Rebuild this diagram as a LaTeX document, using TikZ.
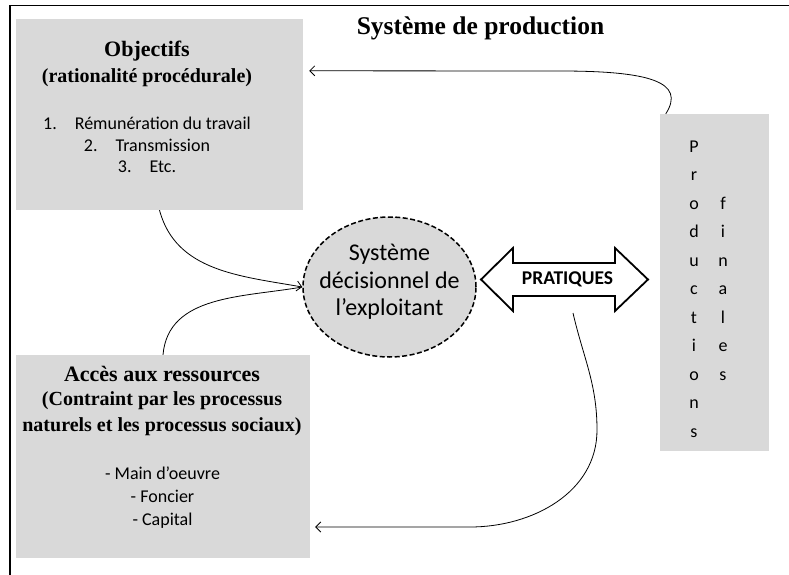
\documentclass[tikz,border=0pt]{standalone}
\usepackage{fontspec}
\setmainfont{Liberation Serif}
\newfontfamily\calibri{Carlito}
\usetikzlibrary{arrows.meta,shapes.geometric}
\definecolor{boxgrey}{HTML}{D9D9D9}
\tikzset{
  greybox/.style={fill=boxgrey, draw=none, inner sep=0pt},
  headline/.style={anchor=base, inner sep=0pt, font=\bfseries\fontsize{22}{26}\selectfont},
  subline/.style={anchor=base, inner sep=0pt, font=\bfseries\fontsize{20}{24}\selectfont},
  itemline/.style={anchor=base, inner sep=0pt, font=\calibri\fontsize{18}{22}\selectfont},
  decline/.style={anchor=base, inner sep=0pt, font=\calibri\fontsize{24}{28}\selectfont},
  prodletter/.style={anchor=base, inner sep=0pt, font=\calibri\fontsize{18}{22}\selectfont},
  link/.style={line width=0.8pt, -{Straight Barb[length=5pt,width=10pt]}},
}

\begin{document}
\begin{tikzpicture}[x=1pt,y=1pt]
  \useasboundingbox (0,0) rectangle (789,-575);
  %%%%% START %%%%%
  \draw[line width=1.5pt] (789,-5.5) -- (10,-5.5) -- (10,-575);
  \node[anchor=base, inner sep=0pt, font=\bfseries\fontsize{25.5}{30}\selectfont] (title) at (480.5,-35) {Système de production};

  % boxes
  \node[greybox, minimum width=287pt, minimum height=191pt] (obj) at (159.5,-114.5) {};
  \node[greybox, minimum width=294pt, minimum height=203pt] (acc) at (163,-456.5) {};
  \node[greybox, minimum width=109pt, minimum height=337pt] (prod) at (714.5,-282.5) {};
  \node[ellipse, fill=boxgrey, draw, line width=1.5pt, dash pattern=on 5pt off 2.5pt,
        minimum width=173pt, minimum height=140pt, inner sep=0pt] (dec) at (389.5,-287) {};

  % objectifs
  \node[headline] (objhead) at (147,-57) {Objectifs};
  \node[subline] (objsub) at (147,-83) {(rationalité procédurale)};
  \node[itemline] (obj1) at (147,-129) {1.\quad Rémunération du travail};
  \node[itemline] (obj2) at (147,-151) {2.\quad Transmission};
  \node[itemline] (obj3) at (147,-172) {3.\quad Etc.};

  % acces
  \node[headline] (acchead) at (162,-381) {Accès aux ressources};
  \node[subline] (accsub1) at (162,-405) {(Contraint par les processus};
  \node[subline] (accsub2) at (162,-431) {naturels et les processus sociaux)};
  \node[itemline] (acc1) at (162.5,-479) {- Main d’oeuvre};
  \node[itemline] (acc2) at (162.5,-502) {- Foncier};
  \node[itemline] (acc3) at (162.5,-525) {- Capital};

  % systeme decisionnel
  \node[decline] (dec1) at (389.5,-260) {Système};
  \node[decline] (dec2) at (389.5,-288) {décisionnel de};
  \node[decline] (dec3) at (389.5,-315) {l’exploitant};

  % productions finales
  \foreach \ch [count=\i] in {P,r,o,d,u,c,t,i,o,n,s}
    \node[prodletter] (pa\i) at (694,{-152-28.5*(\i-1)}) {\ch};
  \foreach \ch [count=\i from 3] in {f,i,n,a,l,e,s}
    \node[prodletter] (pb\i) at (723,{-152-28.5*(\i-1)}) {\ch};

  % pratiques
  \draw[line width=1.8pt, fill=white, line join=miter] (481,-279.5) -- (513,-248) -- (513,-263)
    -- (615,-263) -- (615,-248) -- (648,-279.5) -- (615,-311) -- (615,-296) -- (513,-296)
    -- (513,-311) -- cycle;
  \node[anchor=base, inner sep=0pt, font=\calibri\bfseries\fontsize{19.5}{23}\selectfont] (prat) at (567.5,-284) {PRATIQUES};

  % liens
  \coordinate (objin) at ([xshift=6pt,yshift=-52pt]obj.north east);
  \coordinate (accin) at ([xshift=5pt,yshift=-70.5pt]acc.east);
  \coordinate (pratout) at (573,-313);
  \draw[link] ([xshift=6pt]prod.north west) .. controls (686,-82) and (650,-71) .. (560,-71) -- (objin);
  \draw[link] (obj.south) to[out=-75,in=170] (dec.west);
  \draw[line width=0.8pt] (acc.north) to[out=85,in=190] (dec.west);
  \draw[link] (pratout) to[out=-77,in=90] (597,-430) to[out=-90,in=0] (470,-527) -- (accin);
  %%%%% END %%%%%
\end{tikzpicture}
\end{document}
